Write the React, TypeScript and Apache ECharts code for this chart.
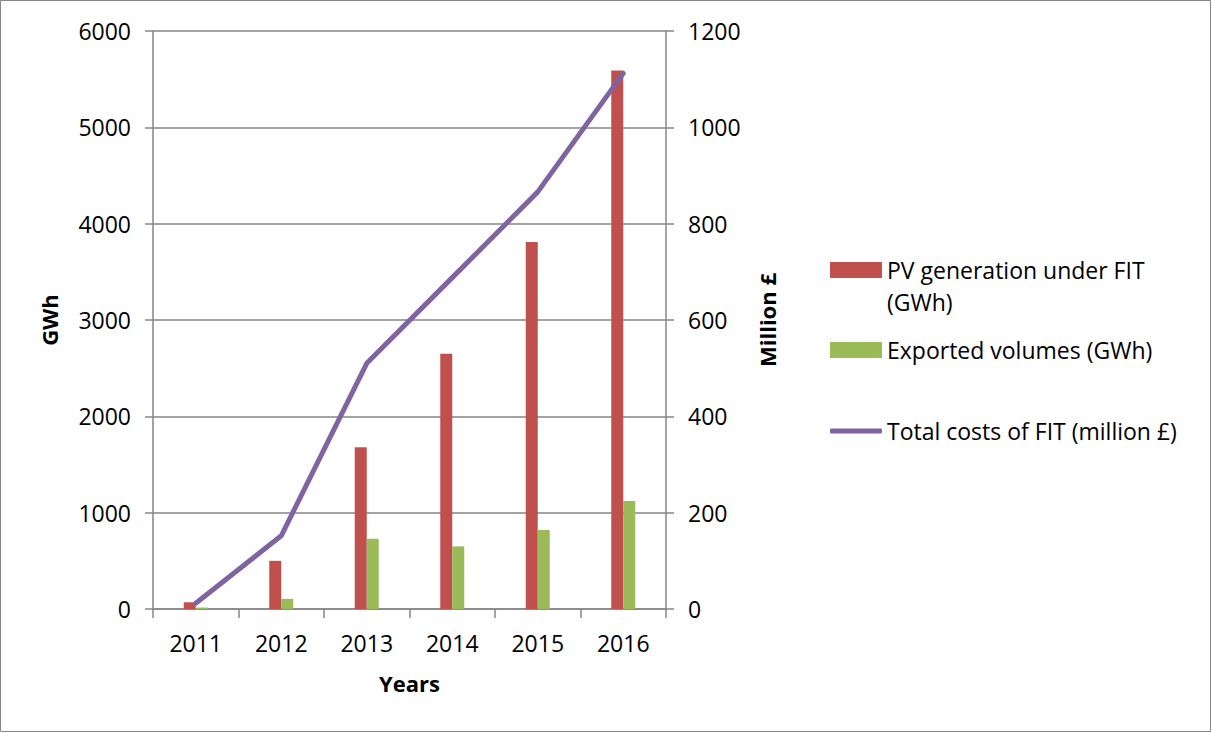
import React, { useEffect, useRef } from 'react';
import * as echarts from 'echarts';

const years = ['2011', '2012', '2013', '2014', '2015', '2016'];
const pvGeneration = [70, 500, 1680, 2650, 3810, 5590];
const exportedVolumes = [15, 105, 730, 650, 820, 1120];
const totalCosts = [12, 152, 510, 688, 866, 1112];

const PV_NAME = 'PV generation under FIT (GWh)';
const EXP_NAME = 'Exported volumes (GWh)';
const COST_NAME = 'Total costs of FIT (million £)';

export default function App() {
  const ref = useRef<HTMLDivElement>(null);

  useEffect(() => {
    const chart = echarts.init(ref.current as HTMLDivElement, null, { renderer: 'svg' });
    const font = 'Open Sans';
    const grey = '#868686';
    const purple = '#8064A2';
    const fs = 23;
    const legendBase = {
      orient: 'vertical',
      left: 830,
      padding: 0,
      itemWidth: 52,
      itemHeight: 16,
      selectedMode: false,
      textStyle: { fontFamily: font, fontSize: fs, color: '#000', lineHeight: 32 },
    };
    const plain = (v: number) => String(v);
    chart.setOption({
      animation: false,
      textStyle: { fontFamily: font },
      grid: { left: 153, right: 546, top: 31, bottom: 124, containLabel: false },
      graphic: [
        {
          type: 'rect',
          shape: { x: 0.5, y: 0.5, width: 1210, height: 731 },
          style: { fill: 'none', stroke: grey, lineWidth: 1 },
          silent: true,
        },
      ],
      legend: [
        {
          ...legendBase,
          top: 222,
          data: [{ name: PV_NAME, icon: 'rect' }],
          formatter: () => '\nPV generation under FIT\n(GWh)',
        },
        {
          ...legendBase,
          top: 334,
          data: [{ name: EXP_NAME, icon: 'rect' }],
        },
        {
          ...legendBase,
          top: 415,
          itemHeight: 5,
          data: [{ name: COST_NAME, icon: 'roundRect', itemStyle: { color: purple } }],
        },
      ],
      xAxis: {
        type: 'category',
        data: years,
        name: 'Years',
        nameLocation: 'middle',
        nameGap: 63,
        nameTextStyle: { fontFamily: font, fontWeight: 'bold', fontSize: 22, color: '#000' },
        axisLine: { lineStyle: { color: grey, width: 1.5 } },
        axisTick: { show: true, length: 9, lineStyle: { color: grey, width: 1.5 } },
        axisLabel: { color: '#000', fontSize: fs, fontFamily: font, margin: 22 },
      },
      yAxis: [
        {
          type: 'value',
          min: 0,
          max: 6000,
          interval: 1000,
          name: 'GWh',
          nameLocation: 'middle',
          nameRotate: 90,
          nameGap: 93,
          nameTextStyle: { fontFamily: font, fontWeight: 'bold', fontSize: 22, color: '#000' },
          axisLine: { show: true, lineStyle: { color: grey, width: 1.5 } },
          axisTick: { show: true, length: 8, lineStyle: { color: grey, width: 1.5 } },
          splitLine: { show: true, lineStyle: { color: grey, width: 1.5 } },
          axisLabel: { color: '#000', fontSize: fs, fontFamily: font, margin: 22, formatter: plain },
        },
        {
          type: 'value',
          min: 0,
          max: 1200,
          interval: 200,
          position: 'right',
          name: 'Million £',
          nameLocation: 'middle',
          nameRotate: 90,
          nameGap: 90,
          nameTextStyle: { fontFamily: font, fontWeight: 'bold', fontSize: 22, color: '#000' },
          axisLine: { show: true, lineStyle: { color: grey, width: 1.5 } },
          axisTick: { show: true, length: 8, lineStyle: { color: grey, width: 1.5 } },
          splitLine: { show: false },
          axisLabel: { color: '#000', fontSize: fs, fontFamily: font, margin: 22, formatter: plain },
        },
      ],
      series: [
        {
          name: PV_NAME,
          type: 'bar',
          yAxisIndex: 0,
          data: pvGeneration,
          barWidth: 12,
          barGap: '0%',
          itemStyle: { color: '#C0504D' },
        },
        {
          name: EXP_NAME,
          type: 'bar',
          yAxisIndex: 0,
          data: exportedVolumes,
          barWidth: 12,
          barGap: '0%',
          itemStyle: { color: '#9BBB59' },
        },
        {
          name: COST_NAME,
          type: 'line',
          yAxisIndex: 1,
          data: totalCosts,
          symbol: 'none',
          lineStyle: { color: purple, width: 5, cap: 'round', join: 'round' },
          itemStyle: { color: purple },
          z: 5,
        },
      ],
    });
    return () => chart.dispose();
  }, []);

  return (
    <div
      ref={ref}
      style={{ position: 'absolute', left: 0, top: 0, width: 1212, height: 733, background: '#fff' }}
    />
  );
}
